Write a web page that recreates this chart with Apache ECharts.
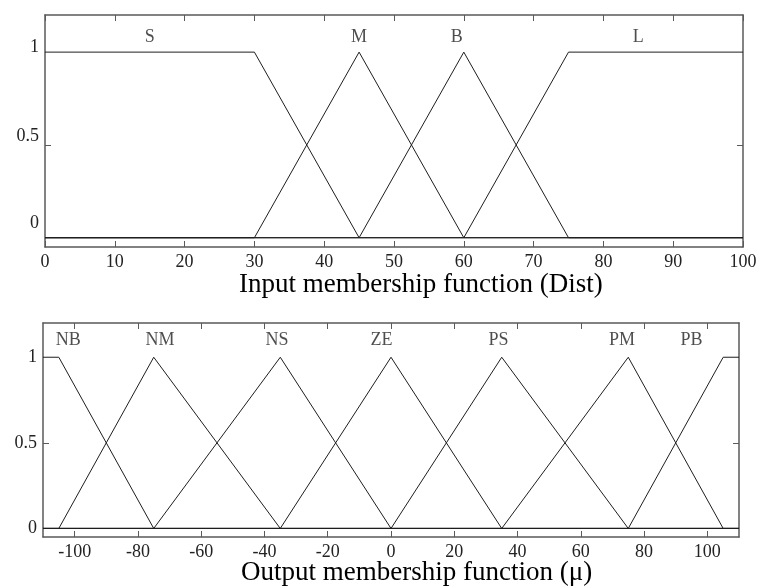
<!DOCTYPE html>
<html>
<head>
<meta charset="utf-8">
<script src="https://cdn.jsdelivr.net/npm/echarts@6/dist/echarts.min.js"></script>
<style>
html,body{margin:0;padding:0;background:#fff;}
#chart{width:761px;height:586px;}
</style>
</head>
<body>
<div id="chart"></div>
<script>
// ---- Input membership functions (Dist) ----
const inNames = ['S', 'M', 'B', 'L'];
const inS = [[0, 1], [30, 1], [45, 0], [100, 0]];
const inM = [[0, 0], [30, 0], [45, 1], [60, 0], [100, 0]];
const inB = [[0, 0], [45, 0], [60, 1], [75, 0], [100, 0]];
const inL = [[0, 0], [60, 0], [75, 1], [100, 1]];
const inLabelX = [15, 45, 59, 85];
const inLabelY = 1.08;
const inXTicks = [0, 10, 20, 30, 40, 50, 60, 70, 80, 90, 100];

// ---- Output membership functions (mu) ----
const outNames = ['NB', 'NM', 'NS', 'ZE', 'PS', 'PM', 'PB'];
const outNB = [[-110, 1], [-105, 1], [-75, 0], [110, 0]];
const outNM = [[-110, 0], [-105, 0], [-75, 1], [-35, 0], [110, 0]];
const outNS = [[-110, 0], [-75, 0], [-35, 1], [0, 0], [110, 0]];
const outZE = [[-110, 0], [-35, 0], [0, 1], [35, 0], [110, 0]];
const outPS = [[-110, 0], [0, 0], [35, 1], [75, 0], [110, 0]];
const outPM = [[-110, 0], [35, 0], [75, 1], [105, 0], [110, 0]];
const outPB = [[-110, 0], [75, 0], [105, 1], [110, 1]];
const outLabelX = [-102, -73, -36, -3, 34, 73, 95];
const outLabelY = 1.1;
const outXTicks = [-100, -80, -60, -40, -20, 0, 20, 40, 60, 80, 100];

const yTicks = [0, 0.5, 1];

const titles = ['Input membership function (Dist)', 'Output membership function (\u03bc)'];

// ---- styling ----
const FONT = 'Liberation Serif';
const axisColor = '#5a5a5a';
const lineColor = '#1e1e1e';
const labelFont = { fontFamily: FONT, fontSize: 18, color: '#222' };

function xAxes(gridIndex, min, max, ticks) {
  const base = {
    type: 'value', gridIndex, min, max,
    splitLine: { show: false },
    axisLine: { show: true, onZero: false, lineStyle: { color: axisColor, width: 1.5 } },
    axisTick: { show: true, inside: true, length: 6, customValues: ticks, lineStyle: { color: axisColor, width: 1 } }
  };
  return [
    Object.assign({}, base, {
      position: 'bottom',
      axisLabel: Object.assign({ show: true, margin: 6, customValues: ticks }, labelFont)
    }),
    Object.assign({}, base, { position: 'top', axisLabel: { show: false } })
  ];
}

const topShift = { '1': 10, '0.5': 18, '0': 28 };

function yAxes(gridIndex, shifted) {
  const base = {
    type: 'value', gridIndex, min: -0.05, max: 1.2,
    splitLine: { show: false },
    axisLine: { show: true, onZero: false, lineStyle: { color: axisColor, width: 1.5 } },
    axisTick: { show: true, inside: true, length: 6, customValues: [0.5], lineStyle: { color: axisColor, width: 1 } }
  };
  const rich = {};
  Object.keys(topShift).forEach((k, i) => {
    rich['r' + i] = Object.assign({ padding: [0, 0, shifted ? topShift[k] : 0, 0] }, labelFont);
  });
  const keys = Object.keys(topShift);
  return [
    Object.assign({}, base, {
      position: 'left',
      axisLabel: Object.assign({
        show: true, margin: 6, customValues: yTicks,
        formatter: v => '{r' + keys.indexOf(String(v)) + '|' + v + '}',
        rich
      }, labelFont)
    }),
    Object.assign({}, base, { position: 'right', axisLabel: { show: false } })
  ];
}

function mfSeries(data, axisIdx) {
  return {
    type: 'line', data, xAxisIndex: axisIdx, yAxisIndex: axisIdx,
    symbol: 'none', silent: true, animation: false,
    lineStyle: { color: lineColor, width: 1 }
  };
}

function nameSeries(names, xs, y, axisIdx) {
  return {
    type: 'scatter', xAxisIndex: axisIdx, yAxisIndex: axisIdx,
    symbolSize: 0, silent: true, animation: false,
    data: names.map((n, i) => ({ value: [xs[i], y], name: n })),
    label: Object.assign({ show: true, position: 'inside', formatter: p => p.name }, labelFont)
  };
}

const xs0 = xAxes(0, 0, 100, inXTicks);
const xs1 = xAxes(1, -110, 110, outXTicks);
const ys0 = yAxes(0, true);
const ys1 = yAxes(1, false);

const option = {
  animation: false,
  backgroundColor: '#fff',
  title: [
    { text: titles[0], left: 239, top: 271, padding: 0,
      textStyle: { fontFamily: FONT, fontSize: 27, fontWeight: 'normal', color: '#000', lineHeight: 27 } },
    { text: titles[1], left: 241, top: 559, padding: 0,
      textStyle: { fontFamily: FONT, fontSize: 27, fontWeight: 'normal', color: '#000', lineHeight: 27 } }
  ],
  grid: [
    { left: 45, right: 18, top: 15, height: 232 },
    { left: 43, right: 22, top: 323, height: 214 }
  ],
  // axis index 0,1 -> grid 0 (bottom/top); 2,3 -> grid 1
  xAxis: [xs0[0], xs0[1], xs1[0], xs1[1]],
  yAxis: [ys0[0], ys0[1], ys1[0], ys1[1]],
  series: [
    mfSeries(inS, 0), mfSeries(inM, 0), mfSeries(inB, 0), mfSeries(inL, 0),
    nameSeries(inNames, inLabelX, inLabelY, 0),
    mfSeries(outNB, 2), mfSeries(outNM, 2), mfSeries(outNS, 2), mfSeries(outZE, 2),
    mfSeries(outPS, 2), mfSeries(outPM, 2), mfSeries(outPB, 2),
    nameSeries(outNames, outLabelX, outLabelY, 2)
  ]
};

const chart = echarts.init(document.getElementById('chart'), null, { renderer: 'canvas' });
chart.setOption(option);
</script>
</body>
</html>
